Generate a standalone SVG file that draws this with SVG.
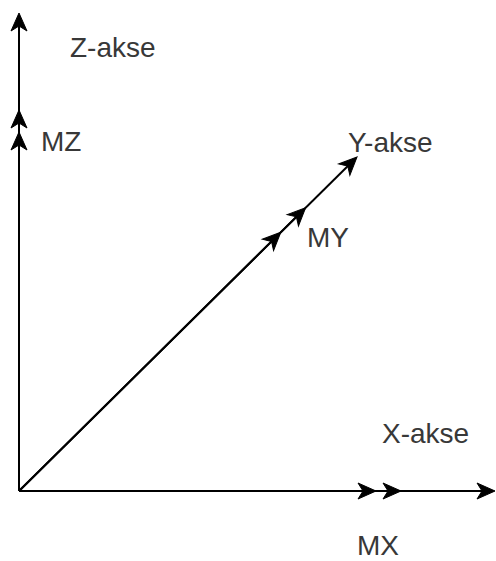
<svg xmlns="http://www.w3.org/2000/svg" width="496" height="561" viewBox="0 0 496 561">
  <style>
    .axis { fill: none; stroke: #000; stroke-width: 2; }
    .lbl { font-family: "Liberation Sans", Arial, sans-serif; font-size: 28px; fill: #383838; }
  </style>
  <defs>
    <marker id="head" markerUnits="userSpaceOnUse" orient="auto" overflow="visible" markerWidth="1" markerHeight="1" refX="0" refY="0">
      <path d="M4,0 L-14,-8 L-9,0 L-14,8 Z" fill="#000" stroke="#000" stroke-width="1" stroke-linejoin="miter"/>
    </marker>
  </defs>
  <rect width="496" height="561" fill="#fff"/>
  <g id="connectors">
    <path id="z-axis" class="axis" d="M19,491 L19,17" marker-end="url(#head)"/>
    <path id="mz" class="axis" d="M19,491 L19,136 L19,114" marker-mid="url(#head)" marker-end="url(#head)"/>
    <path id="x-axis" class="axis" d="M19,491 L491,491" marker-end="url(#head)"/>
    <path id="mx" class="axis" d="M19,491 L372,491 L397,491" marker-mid="url(#head)" marker-end="url(#head)"/>
    <path id="y-axis" class="axis" d="M19,491 L354.2,159.8" marker-end="url(#head)"/>
    <path id="my" class="axis" d="M19,491 L277.9,235.1 L302.8,210.5" marker-mid="url(#head)" marker-end="url(#head)"/>
  </g>
  <g id="label-z-akse"><text class="lbl" x="70" y="57">Z-akse</text></g>
  <g id="label-mz"><text class="lbl" x="41" y="151">MZ</text></g>
  <g id="label-y-akse"><text class="lbl" x="348" y="152">Y-akse</text></g>
  <g id="label-my"><text class="lbl" x="307" y="247">MY</text></g>
  <g id="label-x-akse"><text class="lbl" x="382" y="443">X-akse</text></g>
  <g id="label-mx"><text class="lbl" x="357" y="555">MX</text></g>
</svg>
